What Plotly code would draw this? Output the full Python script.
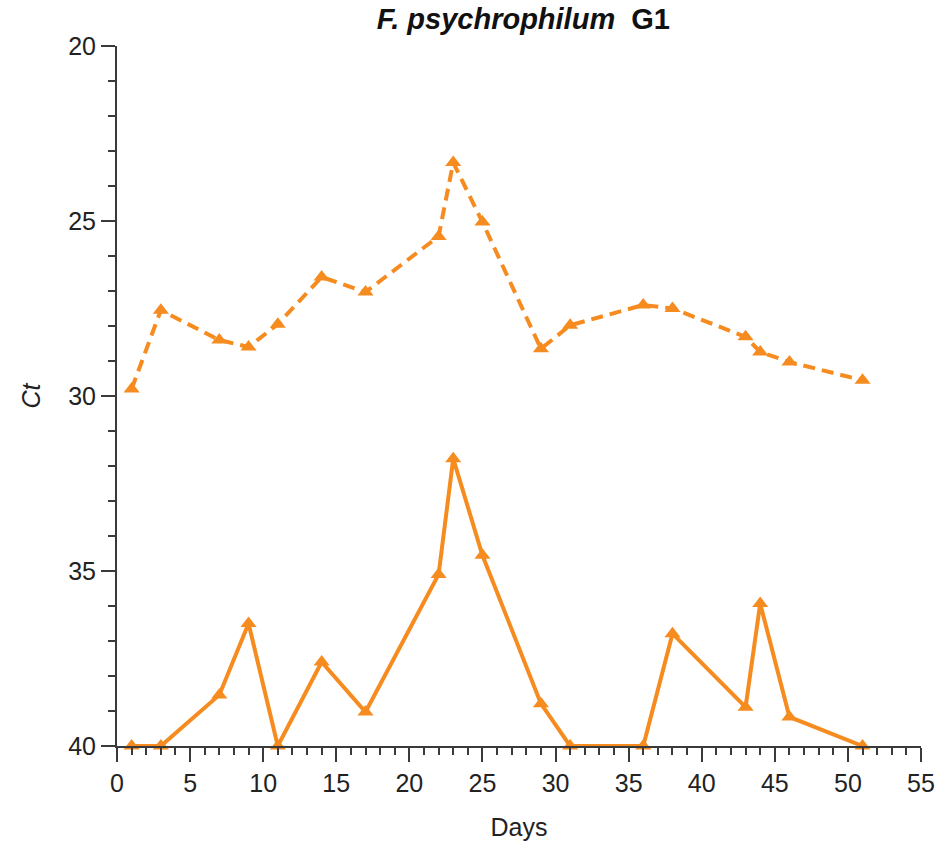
import plotly.graph_objects as go

days = [1, 3, 7, 9, 11, 14, 17, 22, 23, 25, 29, 31, 36, 38, 43, 44, 46, 51]
ct_dashed = [29.8, 27.55, 28.4, 28.6, 27.95, 26.6, 27.03, 25.44, 23.33, 25.03,
             28.65, 27.98, 27.4, 27.5, 28.31, 28.74, 29.03, 29.55]
ct_solid = [40, 40, 38.54, 36.5, 40, 37.6, 39.03, 35.1, 31.79, 34.55,
            38.79, 40, 40, 36.79, 38.89, 35.93, 39.17, 40]

x_ticks = [0, 5, 10, 15, 20, 25, 30, 35, 40, 45, 50, 55]
y_ticks = [20, 25, 30, 35, 40]

orange = "#F68B1F"
axis_col = "#3a3a3a"
font_family = "Liberation Sans, Arial, sans-serif"

fig = go.Figure()
fig.add_trace(go.Scatter(
    x=days, y=ct_dashed, mode="lines+markers",
    line=dict(color=orange, width=4, dash="12px,7px"),
    marker=dict(symbol="triangle-up", size=14, color=orange),
    cliponaxis=False, showlegend=False))
fig.add_trace(go.Scatter(
    x=days, y=ct_solid, mode="lines+markers",
    line=dict(color=orange, width=4),
    marker=dict(symbol="triangle-up", size=14, color=orange),
    cliponaxis=False, showlegend=False))

fig.update_layout(
    width=943, height=843,
    margin=dict(l=117, r=22, t=46, b=97, autoexpand=False),
    paper_bgcolor="white", plot_bgcolor="white",
    font=dict(family=font_family, size=25, color="#222"),
    title=dict(text="<b><i>F. psychrophilum</i>&nbsp;&nbsp;G1</b>",
               x=0.555, xanchor="center", y=0.978, yanchor="middle",
               font=dict(size=29, color="#111")),
)
fig.update_xaxes(
    range=[0, 55], tickvals=x_ticks, ticktext=[str(v) for v in x_ticks],
    automargin=False,
    showgrid=False, zeroline=False, showline=True, linecolor=axis_col, linewidth=2,
    ticks="outside", ticklen=14, tickwidth=2, tickcolor=axis_col,
    minor=dict(dtick=1, tick0=0, ticks="outside", ticklen=7, tickwidth=2, tickcolor=axis_col),
    tickfont=dict(size=25, color="#222"),
    title=dict(text="Days", font=dict(size=25, color="#222"), standoff=22),
)
fig.update_yaxes(
    range=[40, 20], tickvals=y_ticks, ticktext=[str(v) for v in y_ticks],
    automargin=False,
    showgrid=False, zeroline=False, showline=True, linecolor=axis_col, linewidth=2,
    ticks="outside", ticklen=14, tickwidth=2, tickcolor=axis_col,
    minor=dict(dtick=1, tick0=20, ticks="outside", ticklen=7, tickwidth=2, tickcolor=axis_col),
    tickfont=dict(size=25, color="#222"),
    title=dict(text="<i>Ct</i>", font=dict(size=25, color="#222"), standoff=20),
)

fig.write_html("out.html")
